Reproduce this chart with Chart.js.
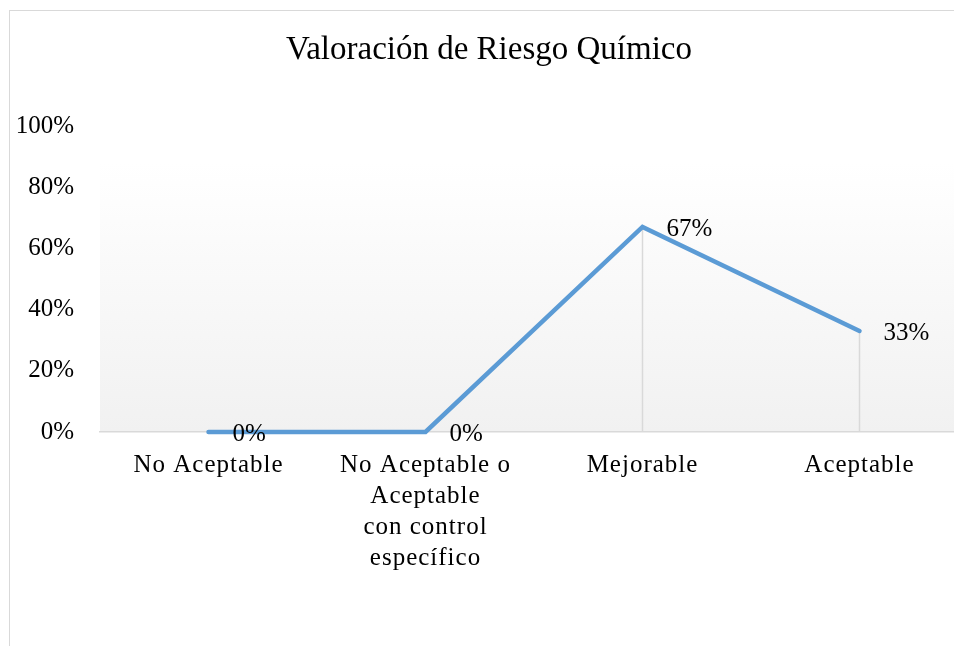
<!DOCTYPE html>
<html>
<head>
<meta charset="utf-8">
<script src="https://cdn.jsdelivr.net/npm/chart.js@4/dist/chart.umd.min.js"></script>
<style>
  html, body { margin: 0; padding: 0; background: #fff; overflow: hidden; width: 954px; height: 646px; }
  #frame { position: absolute; left: 9px; top: 10px; width: 1000px; height: 700px; border-top: 1px solid #D9D9D9; border-left: 1px solid #D9D9D9; }
  #wrap { position: absolute; left: 0; top: 0; width: 978px; height: 646px; }
</style>
</head>
<body>
<div id="frame"></div>
<div id="wrap"><canvas id="c"></canvas></div>
<script>
const titleText = 'Valoración de Riesgo Químico';
const categories = [
  'No Aceptable',
  ['No Aceptable o', 'Aceptable', 'con control', 'específico'],
  'Mejorable',
  'Aceptable'
];
const values = [0, 0, 67, 33];
const yTicks = [0, 20, 40, 60, 80, 100];

const FONT = '"Liberation Serif", "Times New Roman", serif';

// x-axis category labels are drawn slightly letter-spaced
const spacingPlugin = {
  id: 'xspacing',
  afterUpdate(chart) {
    const xs = chart.scales.x;
    if (xs && !xs.__wrapped) {
      const orig = xs.drawLabels;
      xs.drawLabels = function (area) {
        const ctx = this.ctx;
        ctx.save();
        ctx.letterSpacing = '1px';
        orig.call(this, area);
        ctx.restore();
      };
      xs.__wrapped = true;
    }
  }
};

const bgPlugin = {
  id: 'bg',
  beforeDraw(chart) {
    const { ctx, chartArea: a } = chart;
    const g = ctx.createLinearGradient(0, a.top, 0, a.bottom);
    g.addColorStop(0, '#FFFFFF');
    g.addColorStop(0.12, '#FFFFFF');
    g.addColorStop(1, '#F1F1F1');
    ctx.save();
    ctx.fillStyle = g;
    ctx.fillRect(a.left, a.top, a.right - a.left, a.bottom - a.top);
    ctx.restore();
  }
};

const dropPlugin = {
  id: 'drops',
  beforeDatasetsDraw(chart) {
    const { ctx } = chart;
    const meta = chart.getDatasetMeta(0);
    const yb = chart.scales.y.getPixelForValue(0);
    ctx.save();
    ctx.strokeStyle = '#D9D9D9';
    ctx.lineWidth = 1.5;
    meta.data.forEach(p => {
      ctx.beginPath();
      ctx.moveTo(p.x, p.y);
      ctx.lineTo(p.x, yb);
      ctx.stroke();
    });
    ctx.restore();
  }
};

const labelPlugin = {
  id: 'vlabels',
  afterDatasetsDraw(chart) {
    const { ctx } = chart;
    const meta = chart.getDatasetMeta(0);
    ctx.save();
    ctx.font = '25px ' + FONT;
    ctx.fillStyle = '#000';
    ctx.textAlign = 'left';
    ctx.textBaseline = 'middle';
    meta.data.forEach((p, i) => {
      ctx.fillText(values[i] + '%', p.x + 24, p.y + 2);
    });
    ctx.restore();
  }
};

new Chart(document.getElementById('c'), {
  type: 'line',
  data: {
    labels: categories,
    datasets: [{
      data: values,
      borderColor: '#5B9BD5',
      borderWidth: 4.5,
      borderCapStyle: 'round',
      borderJoinStyle: 'miter',
      pointRadius: 0,
      tension: 0,
      fill: false,
      clip: false
    }]
  },
  options: {
    responsive: true,
    maintainAspectRatio: false,
    animation: false,
    layout: { padding: { left: 10, right: 10, top: 0, bottom: 0 } },
    plugins: {
      legend: { display: false },
      tooltip: { enabled: false },
      title: {
        display: true,
        text: titleText,
        color: '#000',
        font: { family: FONT, size: 33, weight: 'normal', lineHeight: 1.2 },
        padding: { top: 31, bottom: 55.4 }
      }
    },
    scales: {
      x: {
        offset: true,
        grid: { display: false, drawTicks: false },
        border: { display: true, color: '#D9D9D9', width: 1.5 },
        ticks: {
          color: '#000',
          font: { family: FONT, size: 25, lineHeight: 1.24 },
          padding: 18,
          maxRotation: 0,
          autoSkip: false
        },
        afterFit(s) { s.height = 214; }
      },
      y: {
        min: 0,
        max: 100,
        grid: { display: false, drawTicks: false },
        border: { display: false },
        afterBuildTicks(s) { s.ticks = yTicks.map(v => ({ value: v })); },
        ticks: {
          color: '#000',
          font: { family: FONT, size: 25 },
          padding: 26,
          callback: v => v + '%'
        },
        afterFit(s) { s.width = 90; }
      }
    }
  },
  plugins: [spacingPlugin, bgPlugin, dropPlugin, labelPlugin]
});
</script>
</body>
</html>
